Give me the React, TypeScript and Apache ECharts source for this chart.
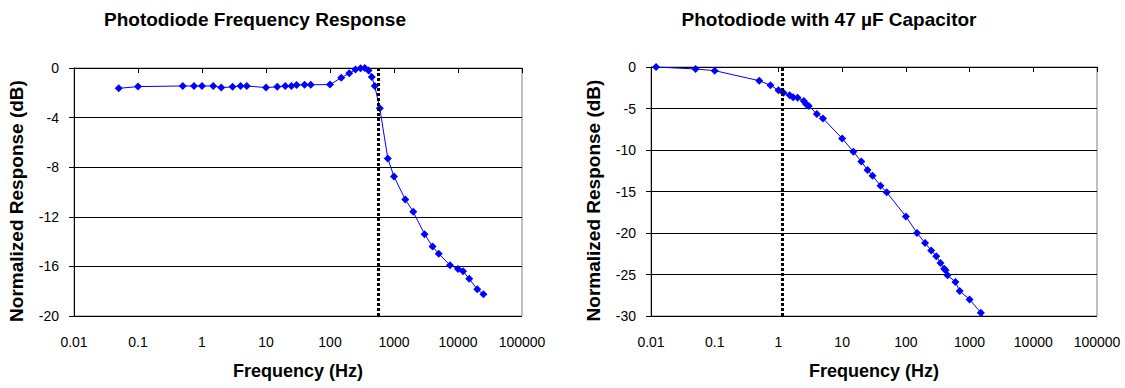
import React, { useEffect, useRef } from "react";
import * as echarts from "echarts";

// ---- Data ----
const titleLeft = "Photodiode Frequency Response";
const titleRight = "Photodiode with 47 µF Capacitor";
const xAxisName = "Frequency (Hz)";
const yAxisName = "Normalized Response (dB)";

const xTickLabels = ["0.01", "0.1", "1", "10", "100", "1000", "10000", "100000"];

const freqA = [0.05, 0.1, 0.5, 0.75, 1, 1.5, 2, 3, 4, 5, 10, 15, 20, 25, 30, 40, 50, 100, 150, 200, 250, 300, 350, 400, 450, 500, 600, 800, 1000, 1500, 2000, 3000, 4000, 5000, 7500, 10000, 12000, 15000, 20000, 25000];
const respA = [-1.64, -1.5, -1.45, -1.45, -1.45, -1.45, -1.58, -1.52, -1.45, -1.45, -1.58, -1.52, -1.45, -1.45, -1.37, -1.35, -1.35, -1.34, -0.78, -0.43, -0.13, -0.03, 0, -0.21, -0.73, -1.45, -3.25, -7.29, -8.76, -10.6, -11.6, -13.4, -14.4, -14.97, -15.9, -16.2, -16.4, -17.0, -17.85, -18.25];
const cutoffA = 560;

const freqB = [0.012, 0.05, 0.1, 0.5, 0.75, 1, 1.2, 1.5, 1.7, 2, 2.5, 2.7, 3, 4, 5, 10, 15, 20, 25, 30, 40, 50, 100, 150, 200, 250, 300, 350, 400, 420, 450, 600, 700, 1000, 1500, 2000];
const respB = [0, -0.24, -0.44, -1.65, -2.2, -2.8, -3.1, -3.4, -3.65, -3.7, -4.1, -4.45, -4.7, -5.65, -6.2, -8.6, -10.2, -11.4, -12.4, -13.1, -14.3, -15.1, -18.0, -20.0, -21.2, -22.1, -22.8, -23.6, -24.3, -24.5, -25.1, -25.9, -27.0, -28.0, -29.6, -31.2];
const cutoffB = 1.15;

const FONT = 'Arial, "Liberation Sans", Helvetica, sans-serif';

function xAxisFor(gridIndex: number) {
  return {
    type: "log",
    logBase: 10,
    gridIndex,
    min: 0.01,
    max: 100000,
    name: xAxisName,
    nameLocation: "middle",
    nameGap: 46,
    nameTextStyle: { fontFamily: FONT, fontSize: 18, fontWeight: "bold", color: "#000" },
    axisLine: { show: true, lineStyle: { color: "#000", width: 1 } },
    axisTick: { show: true, inside: false, length: 5, lineStyle: { color: "#000" } },
    axisLabel: {
      margin: 19,
      fontFamily: FONT,
      fontSize: 14,
      color: "#000",
      formatter: (v: number) => xTickLabels[Math.round(Math.log10(v)) + 2] ?? "",
    },
    splitLine: { show: false },
    minorTick: { show: false },
  };
}

function yAxisFor(gridIndex: number, min: number, interval: number, nameGap: number, nTicks: number) {
  const colors: string[] = [];
  for (let i = 0; i < nTicks - 1; i++) colors.push("#000");
  colors.push("#808080");
  return {
    type: "value",
    gridIndex,
    min,
    max: 0,
    interval,
    name: yAxisName,
    nameLocation: "middle",
    nameGap,
    nameTextStyle: { fontFamily: FONT, fontSize: 19, fontWeight: "bold", color: "#000", padding: [0, 18, 0, 0] },
    axisLine: { show: true, lineStyle: { color: "#000", width: 1 } },
    axisTick: { show: true, inside: false, length: 5, lineStyle: { color: "#000" } },
    axisLabel: { margin: 15, fontFamily: FONT, fontSize: 14, color: "#000" },
    splitLine: { show: true, lineStyle: { color: colors, width: 1 } },
  };
}

function seriesFor(idx: number, xs: number[], ys: number[], cutoff: number) {
  return {
    type: "line",
    xAxisIndex: idx,
    yAxisIndex: idx,
    data: xs.map((x, i) => [x, ys[i]]),
    symbol: "diamond",
    symbolSize: 8,
    showSymbol: true,
    lineStyle: { color: "#0000FF", width: 1 },
    itemStyle: { color: "#0000FF", borderWidth: 0 },
    clip: true,
    markLine: {
      silent: true,
      symbol: "none",
      label: { show: false },
      lineStyle: { color: "#000", width: 3, type: [3, 2] },
      data: [{ xAxis: cutoff }],
    },
  };
}

export default function App() {
  const ref = useRef<HTMLDivElement>(null);
  useEffect(() => {
    if (!ref.current) return;
    const chart = echarts.init(ref.current, undefined, { renderer: "svg" });
    chart.setOption({
      animation: false,
      backgroundColor: "#fff",
      graphic: [
        {
          type: "text",
          x: 255,
          y: 19,
          style: { text: titleLeft, font: `bold 19px ${FONT}`, fill: "#000", textAlign: "center", textVerticalAlign: "middle" },
        },
        {
          type: "text",
          x: 829,
          y: 19,
          style: { text: titleRight, font: `bold 19px ${FONT}`, fill: "#000", textAlign: "center", textVerticalAlign: "middle" },
        },
      ],
      grid: [
        { left: 74, top: 68, width: 448, height: 248, show: true, borderColor: "#808080", borderWidth: 1, containLabel: false },
        { left: 651, top: 67, width: 446, height: 249, show: true, borderColor: "#808080", borderWidth: 1, containLabel: false },
      ],
      xAxis: [xAxisFor(0), xAxisFor(1)],
      yAxis: [yAxisFor(0, -20, 4, 48, 6), yAxisFor(1, -30, 5, 48, 7)],
      series: [seriesFor(0, freqA, respA, cutoffA), seriesFor(1, freqB, respB, cutoffB)],
    });
    return () => chart.dispose();
  }, []);
  return (
    <div
      ref={ref}
      style={{ position: "fixed", left: 0, top: 0, width: 1125, height: 388, background: "#fff" }}
    />
  );
}
